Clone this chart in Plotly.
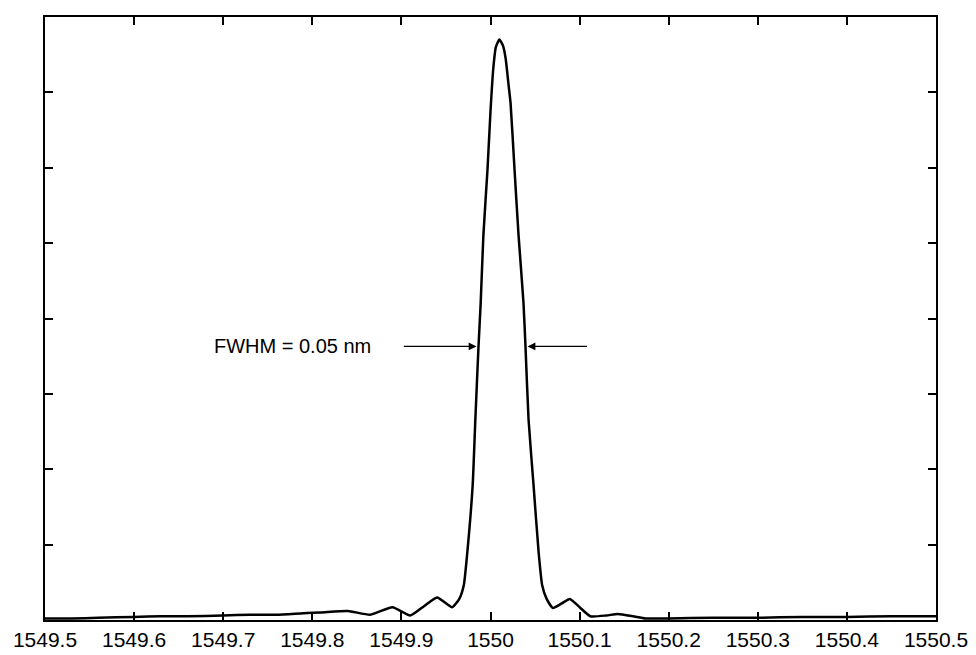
import plotly.graph_objects as go

# wavelength (nm) and intensity (arb. units)
wavelength = [
    1549.500, 1549.530, 1549.560, 1549.600, 1549.630, 1549.660, 1549.700,
    1549.730, 1549.760, 1549.790, 1549.810, 1549.840, 1549.865, 1549.890,
    1549.910, 1549.925, 1549.940, 1549.957, 1549.965, 1549.970, 1549.974,
    1549.980, 1549.983, 1549.9865, 1549.989, 1549.992, 1549.9966, 1550.000,
    1550.003, 1550.006, 1550.010, 1550.014, 1550.017, 1550.020, 1550.0225,
    1550.027, 1550.0315, 1550.037, 1550.0393, 1550.0427, 1550.0483, 1550.054,
    1550.058, 1550.063, 1550.070, 1550.080, 1550.089, 1550.100, 1550.112,
    1550.130, 1550.143, 1550.160, 1550.174, 1550.200, 1550.250, 1550.300,
    1550.350, 1550.400, 1550.450, 1550.500,
]
intensity = [
    0.02, 0.02, 0.03, 0.04, 0.05, 0.05, 0.06,
    0.07, 0.07, 0.09, 0.10, 0.12, 0.07, 0.17,
    0.06, 0.18, 0.30, 0.17, 0.28, 0.46, 0.90,
    1.79, 2.66, 3.62, 4.21, 5.10, 5.97, 6.75,
    7.30, 7.60, 7.70, 7.62, 7.45, 7.13, 6.86,
    5.97, 5.10, 4.21, 3.62, 2.66, 1.79, 0.90,
    0.46, 0.28, 0.16, 0.22, 0.28, 0.17, 0.05,
    0.06, 0.08, 0.05, 0.02, 0.02, 0.03, 0.03,
    0.04, 0.04, 0.05, 0.05,
]

x_tick_vals = [1549.5, 1549.6, 1549.7, 1549.8, 1549.9, 1550.0,
               1550.1, 1550.2, 1550.3, 1550.4, 1550.5]
x_tick_text = ["1549.5", "1549.6", "1549.7", "1549.8", "1549.9", "1550",
               "1550.1", "1550.2", "1550.3", "1550.4", "1550.5"]
y_tick_vals = [0, 1, 2, 3, 4, 5, 6, 7, 8]

fwhm_label = "FWHM = 0.05 nm"
fwhm_level = 3.63
left_arrow = (1549.901, 1549.9843)   # tail, tip
right_arrow = (1550.110, 1550.0416)  # tail, tip
label_x = 1549.778

fig = go.Figure()
fig.add_trace(go.Scatter(
    x=wavelength, y=intensity, mode="lines",
    line=dict(color="black", width=2.5, shape="spline", smoothing=0.5),
    showlegend=False, hoverinfo="skip",
))

for tail, tip in (left_arrow, right_arrow):
    fig.add_annotation(
        x=tip, y=fwhm_level, ax=tail, ay=fwhm_level,
        xref="x", yref="y", axref="x", ayref="y",
        text="", showarrow=True, arrowhead=2, arrowsize=1.3,
        arrowwidth=1.2, arrowcolor="black",
    )
fig.add_annotation(
    x=label_x, y=fwhm_level, xref="x", yref="y", text=fwhm_label,
    showarrow=False, font=dict(family="Liberation Sans, Arial", size=20, color="black"),
)

fig.update_xaxes(
    range=[1549.5, 1550.5], tickvals=x_tick_vals, ticktext=x_tick_text,
    ticks="inside", ticklen=8, tickwidth=1.5, tickcolor="black",
    showline=True, linecolor="black", linewidth=2, mirror="ticks",
    showgrid=False, zeroline=False, automargin=False,
    tickfont=dict(family="Liberation Sans, Arial", size=21, color="black"),
)
fig.update_yaxes(
    range=[0, 8], tickvals=y_tick_vals, showticklabels=False,
    ticks="inside", ticklen=8, tickwidth=1.5, tickcolor="black",
    showline=True, linecolor="black", linewidth=2, mirror="ticks",
    showgrid=False, zeroline=False, automargin=False,
)
fig.update_layout(
    width=976, height=655,
    margin=dict(l=45, r=40, t=17, b=35),
    plot_bgcolor="white", paper_bgcolor="white",
)
fig.write_html("out.html")
